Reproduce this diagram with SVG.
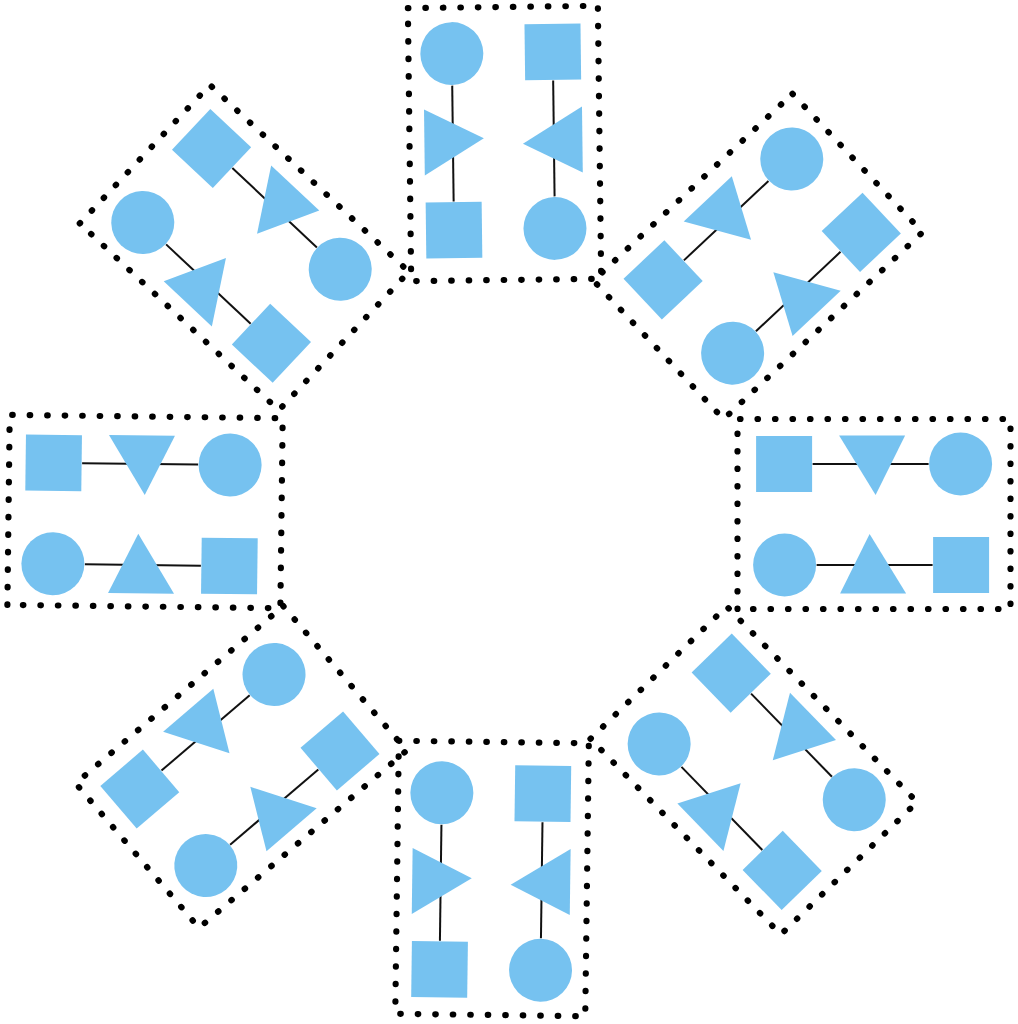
<svg xmlns="http://www.w3.org/2000/svg" xmlns:xlink="http://www.w3.org/1999/xlink" width="1018" height="1024" viewBox="0 0 1018 1024">
<style>
.s{fill:#76c2f0}
.c{stroke:#111;stroke-width:2;fill:none}
</style>
<defs>
<circle id="circ" r="31.5"/>
<rect id="sq" x="-28" y="-28" width="56" height="56"/>
<polygon id="triR" points="-79,-32.5 -19.5,-3 -79,33.5"/>
<polygon id="triL" points="79,32.5 19.5,3 79,-33.5"/>
<path id="frame" d="M-95,-136.5 H95 V136.5 H-95 Z" fill="none" stroke="#000" stroke-width="6.2" stroke-linecap="round" stroke-dasharray="0.5 17"/>
</defs>
<rect width="1018" height="1024" fill="#fff"/>

<g id="box-top" transform="translate(503.4 141) rotate(-0.7)">
<use href="#frame" x="1.1" y="2.5"/>
<g id="box-top-connectors" class="c"><line x1="-50.5" y1="-56" x2="-50.5" y2="60"/><line x1="50.5" y1="-60" x2="50.5" y2="56"/></g>
<use id="box-top-circle1" class="s" href="#circ" x="-50.5" y="-88"/>
<use id="box-top-tri1" class="s" href="#triR"/>
<use id="box-top-square1" class="s" href="#sq" x="-50.5" y="88.5"/>
<use id="box-top-square2" class="s" href="#sq" x="50.5" y="-88.5"/>
<use id="box-top-tri2" class="s" href="#triL"/>
<use id="box-top-circle2" class="s" href="#circ" x="50.5" y="88"/>
</g>

<g id="box-top-right" transform="translate(762.2 256.1) rotate(46.8)">
<use href="#frame" x="-2.6" y="3.3"/>
<g id="box-top-right-connectors" class="c"><line x1="-50.5" y1="-56" x2="-50.5" y2="60"/><line x1="50.5" y1="-60" x2="50.5" y2="56"/></g>
<use id="box-top-right-circle1" class="s" href="#circ" x="-50.5" y="-88"/>
<use id="box-top-right-tri1" class="s" href="#triR"/>
<use id="box-top-right-square1" class="s" href="#sq" x="-50.5" y="88.5"/>
<use id="box-top-right-square2" class="s" href="#sq" x="50.5" y="-88.5"/>
<use id="box-top-right-tri2" class="s" href="#triL"/>
<use id="box-top-right-circle2" class="s" href="#circ" x="50.5" y="88"/>
</g>

<g id="box-right" transform="translate(872.6 514.5) rotate(-90)">
<use href="#frame" x="0.5" y="1.4"/>
<g id="box-right-connectors" class="c"><line x1="-50.5" y1="-56" x2="-50.5" y2="60"/><line x1="50.5" y1="-60" x2="50.5" y2="56"/></g>
<use id="box-right-circle1" class="s" href="#circ" x="-50.5" y="-88"/>
<use id="box-right-tri1" class="s" href="#triR"/>
<use id="box-right-square1" class="s" href="#sq" x="-50.5" y="88.5"/>
<use id="box-right-square2" class="s" href="#sq" x="50.5" y="-88.5"/>
<use id="box-right-tri2" class="s" href="#triL"/>
<use id="box-right-circle2" class="s" href="#circ" x="50.5" y="88"/>
</g>

<g id="box-bottom-right" transform="translate(756.7 771.8) rotate(-44.2)">
<use href="#frame" x="-1.2" y="-3"/>
<g id="box-bottom-right-connectors" class="c"><line x1="-50.5" y1="-56" x2="-50.5" y2="60"/><line x1="50.5" y1="-60" x2="50.5" y2="56"/></g>
<use id="box-bottom-right-circle1" class="s" href="#circ" x="-50.5" y="-88"/>
<use id="box-bottom-right-tri1" class="s" href="#triR"/>
<use id="box-bottom-right-square1" class="s" href="#sq" x="-50.5" y="88.5"/>
<use id="box-bottom-right-square2" class="s" href="#sq" x="50.5" y="-88.5"/>
<use id="box-bottom-right-tri2" class="s" href="#triL"/>
<use id="box-bottom-right-circle2" class="s" href="#circ" x="50.5" y="88"/>
</g>

<g id="box-bottom" transform="translate(491.2 881.5) rotate(0.75)">
<use href="#frame" x="0.8" y="-3"/>
<g id="box-bottom-connectors" class="c"><line x1="-50.5" y1="-56" x2="-50.5" y2="60"/><line x1="50.5" y1="-60" x2="50.5" y2="56"/></g>
<use id="box-bottom-circle1" class="s" href="#circ" x="-50.5" y="-88"/>
<use id="box-bottom-tri1" class="s" href="#triR"/>
<use id="box-bottom-square1" class="s" href="#sq" x="-50.5" y="88.5"/>
<use id="box-bottom-square2" class="s" href="#sq" x="50.5" y="-88.5"/>
<use id="box-bottom-tri2" class="s" href="#triL"/>
<use id="box-bottom-circle2" class="s" href="#circ" x="50.5" y="88"/>
</g>

<g id="box-bottom-left" transform="translate(239.9 770) rotate(49.5)">
<use href="#frame" x="-1.5" y="-2.9"/>
<g id="box-bottom-left-connectors" class="c"><line x1="-50.5" y1="-56" x2="-50.5" y2="60"/><line x1="50.5" y1="-60" x2="50.5" y2="56"/></g>
<use id="box-bottom-left-circle1" class="s" href="#circ" x="-50.5" y="-88"/>
<use id="box-bottom-left-tri1" class="s" href="#triR"/>
<use id="box-bottom-left-square1" class="s" href="#sq" x="-50.5" y="88.5"/>
<use id="box-bottom-left-square2" class="s" href="#sq" x="50.5" y="-88.5"/>
<use id="box-bottom-left-tri2" class="s" href="#triL"/>
<use id="box-bottom-left-circle2" class="s" href="#circ" x="50.5" y="88"/>
</g>

<g id="box-left" transform="translate(141.5 514.4) rotate(-89.3)">
<use href="#frame" x="2.9" y="3.5"/>
<g id="box-left-connectors" class="c"><line x1="-50.5" y1="-56" x2="-50.5" y2="60"/><line x1="50.5" y1="-60" x2="50.5" y2="56"/></g>
<use id="box-left-circle1" class="s" href="#circ" x="-50.5" y="-88"/>
<use id="box-left-tri1" class="s" href="#triR"/>
<use id="box-left-square1" class="s" href="#sq" x="-50.5" y="88.5"/>
<use id="box-left-square2" class="s" href="#sq" x="50.5" y="-88.5"/>
<use id="box-left-tri2" class="s" href="#triL"/>
<use id="box-left-circle2" class="s" href="#circ" x="50.5" y="88"/>
</g>

<g id="box-top-left" transform="translate(241.5 245.9) rotate(-46.8)">
<use href="#frame" x="0.7" y="3.2"/>
<g id="box-top-left-connectors" class="c"><line x1="-50.5" y1="-56" x2="-50.5" y2="60"/><line x1="50.5" y1="-60" x2="50.5" y2="56"/></g>
<use id="box-top-left-circle1" class="s" href="#circ" x="-50.5" y="-88"/>
<use id="box-top-left-tri1" class="s" href="#triR"/>
<use id="box-top-left-square1" class="s" href="#sq" x="-50.5" y="88.5"/>
<use id="box-top-left-square2" class="s" href="#sq" x="50.5" y="-88.5"/>
<use id="box-top-left-tri2" class="s" href="#triL"/>
<use id="box-top-left-circle2" class="s" href="#circ" x="50.5" y="88"/>
</g>
</svg>
